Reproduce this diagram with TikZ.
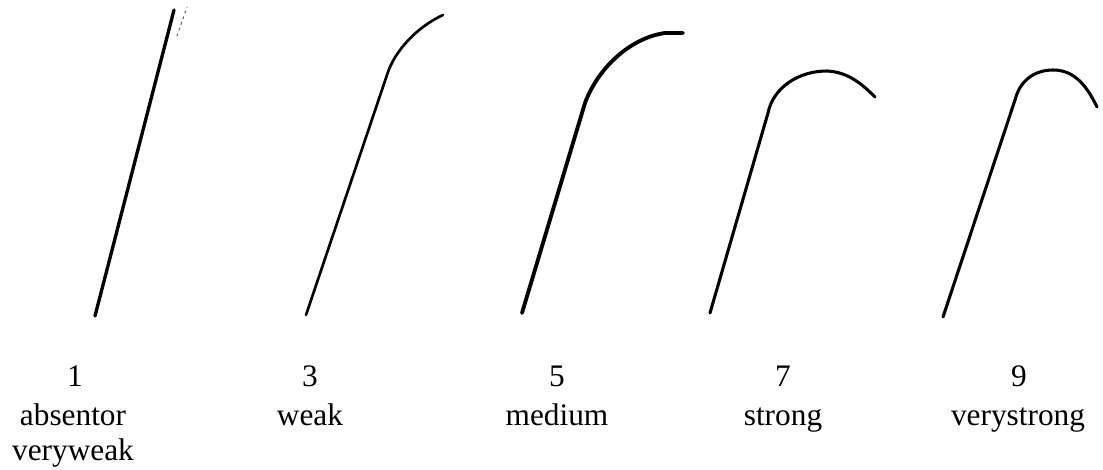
\documentclass[tikz,border=0pt]{standalone}
\usepackage{fontspec}
\setmainfont{Liberation Serif}
\usepackage{tikz}
\usetikzlibrary{positioning}

\begin{document}
\begin{tikzpicture}[x=0.75pt, y=-0.75pt,
  hair/.style={black, line cap=round, line join=round},
  lbl/.style={inner sep=0pt, anchor=base, font=\fontsize{23.5}{27}\selectfont}]
  \useasboundingbox (0,0) rectangle (1103,470);
  % 1 -- straight
  \coordinate (b1) at (95,316);
  \coordinate (t1) at (174,10);
  \draw[hair, line width=2.5pt] (b1) -- (t1);
  \draw[black!60, line width=0.8pt, dash pattern=on 2pt off 2.5pt] (177,36) -- (187,7);
  % 3
  \coordinate (b3) at (306,315);
  \coordinate (k3) at (388,72);
  \draw[hair, line width=2pt] (b3) -- (k3) .. controls (395,52) and (415,28) .. (443,15);
  % 5
  \coordinate (b5) at (522,313);
  \coordinate (k5) at (585,103);
  \draw[hair, line width=2.9pt] (b5) -- (k5) .. controls (598,68) and (630,38) .. (665,33) -- (683,33);
  % 7
  \coordinate (b7) at (710,313);
  \coordinate (k7) at (768,113);
  \draw[hair, line width=2.3pt] (b7) -- (k7) .. controls (773,88) and (798,71) .. (827,71)
    .. controls (848,72) and (862,84) .. (875,97);
  % 9
  \coordinate (b9) at (943,317);
  \coordinate (k9) at (1015,100);
  \draw[hair, line width=2.3pt] (b9) -- (k9) .. controls (1020,80) and (1035,70) .. (1053,70)
    .. controls (1072,70) and (1085,82) .. (1097,107);
  % labels
  \node[lbl] (n1) at (75,386) {1};
  \node[lbl] (w1) at (73,425) {absentor};
  \node[lbl] (v1) at (73,460) {veryweak};
  \node[lbl] (n3) at (310,386) {3};
  \node[lbl] (w3) at (310,425) {weak};
  \node[lbl] (n5) at (557,386) {5};
  \node[lbl] (w5) at (557,425) {medium};
  \node[lbl] (n7) at (783,386) {7};
  \node[lbl] (w7) at (783,425) {strong};
  \node[lbl] (n9) at (1019,386) {9};
  \node[lbl] (w9) at (1018,425) {verystrong};
\end{tikzpicture}
\end{document}
